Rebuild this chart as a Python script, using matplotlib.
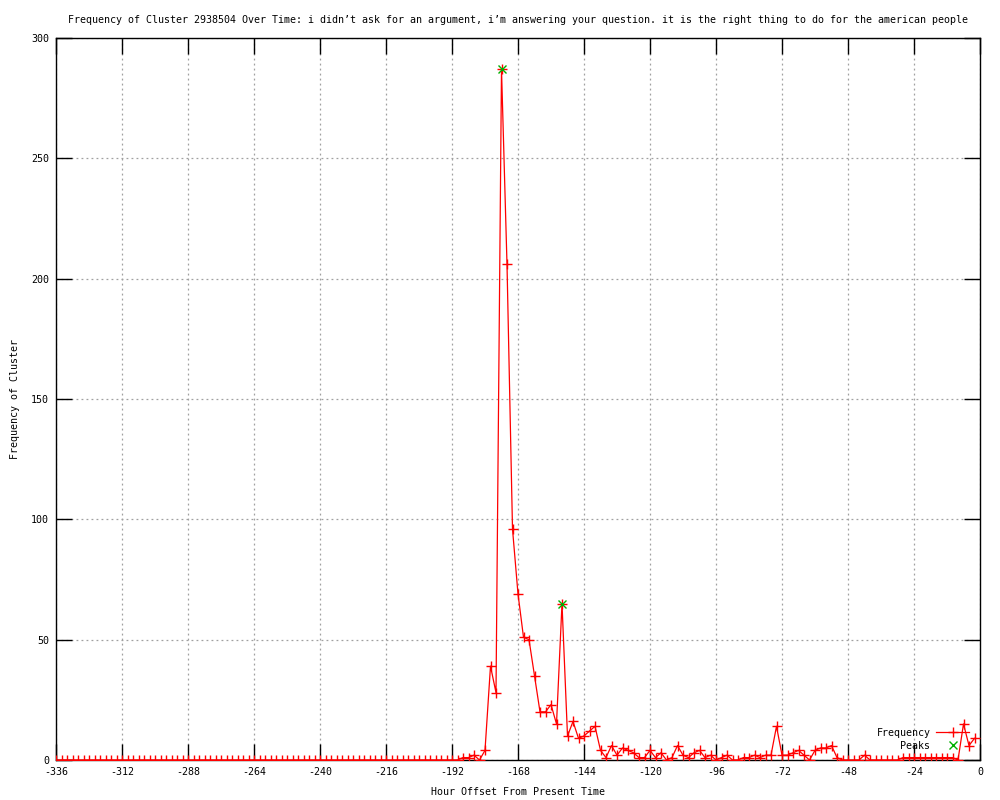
import matplotlib
matplotlib.use("Agg")
import matplotlib.pyplot as plt
import numpy as np

plt.rcParams["axes.unicode_minus"] = False

# Hour offsets (every 2 hours) and frequency values
hours = list(range(-336, 0, 2))
freq_tail = {
    -194: 0, -192: 0, -190: 0, -188: 1, -186: 1, -184: 2, -182: 0, -180: 4,
    -178: 39, -176: 28, -174: 287, -172: 206, -170: 96, -168: 69, -166: 51,
    -164: 50, -162: 35, -160: 20, -158: 20, -156: 23, -154: 15, -152: 65,
    -150: 10, -148: 16, -146: 9, -144: 10, -142: 12, -140: 14, -138: 4,
    -136: 1, -134: 6, -132: 2, -130: 5, -128: 4, -126: 3, -124: 1, -122: 1,
    -120: 4, -118: 1, -116: 3, -114: 0, -112: 1, -110: 6, -108: 2, -106: 1,
    -104: 3, -102: 4, -100: 1, -98: 2, -96: 0, -94: 1, -92: 2, -90: 0,
    -88: 0, -86: 1, -84: 1, -82: 2, -80: 1, -78: 2, -76: 2, -74: 14,
    -72: 2, -70: 2, -68: 3, -66: 4, -64: 2, -62: 0, -60: 4, -58: 5,
    -56: 5, -54: 6, -52: 1, -50: 0, -48: 0, -46: 0, -44: 0, -42: 2,
    -40: 0, -38: 0, -36: 0, -34: 0, -32: 0, -30: 0, -28: 1, -26: 1,
    -24: 1, -22: 1, -20: 1, -18: 1, -16: 1, -14: 1, -12: 1, -10: 1,
    -8: 0, -6: 15, -4: 6, -2: 9,
}
frequency = [freq_tail.get(h, 0) for h in hours]

peak_hours = [-174, -152]
peak_values = [287, 65]

x_ticks = list(range(-336, 1, 24))
y_ticks = list(range(0, 301, 50))

title = ("Frequency of Cluster 2938504 Over Time: i didn\u2019t ask for an argument, "
         "i\u2019m answering your question. it is the right thing to do for the american people")

FONT = "DejaVu Sans Mono"
FS = 7.2

fig = plt.figure(figsize=(10, 8), dpi=100)
ax = fig.add_axes([0.056, 0.05, 0.924, 0.9025])

ax.plot(hours, frequency, color="#ff0000", lw=0.9, marker="+", ms=7,
        mew=1.0, label="Frequency", zorder=3)
ax.plot(peak_hours, peak_values, linestyle="none", color="#00b000", marker="x",
        ms=5.5, mew=1.0, label="Peaks", zorder=4)

ax.set_xlim(-336, 0)
ax.set_ylim(0, 300)
ax.set_xticks(x_ticks)
ax.set_yticks(y_ticks)
ax.grid(True, color="#a0a0a0", linestyle=(0, (1.5, 2.5)), lw=0.9)
ax.set_axisbelow(True)
ax.tick_params(direction="in", length=11.5, width=1.0, top=True, right=True,
               labelsize=FS, pad=5)
for lab in ax.get_xticklabels() + ax.get_yticklabels():
    lab.set_fontfamily(FONT)
for sp in ax.spines.values():
    sp.set_linewidth(1.0)

ax.set_title(title, fontfamily=FONT, fontsize=FS, pad=11)
ax.set_xlabel("Hour Offset From Present Time", fontfamily=FONT, fontsize=FS, labelpad=7)
ax.set_ylabel("Frequency of Cluster", fontfamily=FONT, fontsize=FS, labelpad=8)

leg = ax.legend(loc="lower right", bbox_to_anchor=(0.995, 0.0045), frameon=False,
                markerfirst=False, prop={"family": FONT, "size": FS},
                handlelength=3.3, handletextpad=0.6, labelspacing=0.28,
                borderaxespad=0.2)

fig.savefig("out.png", dpi=100)
